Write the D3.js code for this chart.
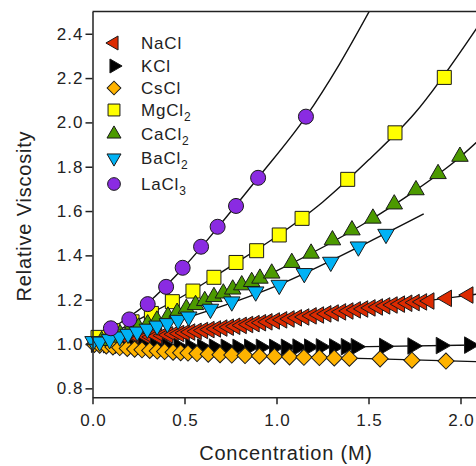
<!DOCTYPE html>
<html>
<head>
<meta charset="utf-8">
<script src="https://cdn.jsdelivr.net/npm/d3@7"></script>
<style>
  body { margin: 0; background: #fff; }
  svg { display: block; font-family: "Liberation Sans", Arial, sans-serif; }
</style>
</head>
<body>
<div id="chart"></div>
<script>
// Measured points, [concentration (M), relative viscosity]
let naclPoints = [[0.02,1.002],[0.05,1.005],[0.08,1.008],[0.11,1.011],[0.14,1.014],[0.17,1.017],
  [0.20,1.020],[0.23,1.023],[0.26,1.026],[0.29,1.029],[0.32,1.032],[0.35,1.035],[0.38,1.038],
  [0.41,1.041],[0.44,1.044],[0.47,1.047],[0.50,1.050],[0.53,1.054],[0.565,1.057],[0.60,1.061],
  [0.635,1.065],[0.67,1.068],[0.705,1.072],[0.74,1.076],[0.775,1.080],[0.81,1.084],[0.845,1.088],
  [0.88,1.092],[0.915,1.096],[0.95,1.100],[0.99,1.104],[1.03,1.109],[1.07,1.113],[1.11,1.118],
  [1.15,1.122],[1.19,1.127],[1.23,1.131],[1.27,1.136],[1.31,1.140],[1.35,1.145],[1.39,1.149],
  [1.43,1.154],[1.47,1.158],[1.51,1.163],[1.55,1.167],[1.59,1.172],[1.63,1.176],[1.67,1.180],
  [1.71,1.184],[1.75,1.187],[1.79,1.190],[1.83,1.194],[1.925,1.206],[2.042,1.221]];
let kclPoints = [[0.02,0.999],[0.085,0.997],[0.149,0.995],[0.213,0.993],[0.277,0.992],[0.341,0.990],
  [0.405,0.989],[0.469,0.988],[0.533,0.987],[0.597,0.986],[0.661,0.986],[0.725,0.985],[0.789,0.985],
  [0.852,0.985],[0.916,0.985],[0.988,0.985],[1.052,0.985],[1.115,0.986],[1.178,0.986],[1.242,0.987],
  [1.314,0.987],[1.378,0.988],[1.432,0.988],[1.586,0.989],[1.740,0.991],[1.894,0.993],[2.048,0.995]];
let csclPoints = [[0.01,0.998],[0.039,0.995],[0.075,0.991],[0.111,0.987],[0.148,0.984],[0.189,0.980],
  [0.229,0.977],[0.269,0.974],[0.311,0.971],[0.352,0.968],[0.392,0.966],[0.438,0.963],[0.479,0.961],
  [0.519,0.959],[0.568,0.957],[0.629,0.954],[0.693,0.952],[0.757,0.950],[0.829,0.948],[0.907,0.946],
  [0.989,0.944],[1.071,0.942],[1.149,0.940],[1.233,0.939],[1.314,0.937],[1.396,0.936],[1.563,0.933],
  [1.736,0.927],[1.921,0.923]];
let mgcl2Points = [[0.03,1.030],[0.11,1.060],[0.215,1.100],[0.32,1.138],[0.434,1.191],[0.546,1.239],
  [0.66,1.301],[0.78,1.368],[0.892,1.421],[1.015,1.492],[1.139,1.567],[1.387,1.743],[1.644,1.953],
  [1.912,2.203]];
let cacl2Points = [[0.05,1.015],[0.10,1.030],[0.15,1.045],[0.20,1.060],[0.25,1.075],[0.30,1.090],
  [0.35,1.107],[0.41,1.125],[0.46,1.142],[0.51,1.160],[0.56,1.177],[0.61,1.195],[0.66,1.213],
  [0.711,1.229],[0.762,1.247],[0.811,1.266],[0.865,1.281],[0.91,1.296],[0.974,1.319],[1.083,1.367],
  [1.188,1.409],[1.304,1.469],[1.41,1.514],[1.524,1.567],[1.64,1.631],[1.758,1.695],[1.878,1.768],
  [1.997,1.846]];
let bacl2Points = [[0.003,1.012],[0.039,1.010],[0.093,1.021],[0.148,1.033],[0.193,1.045],[0.243,1.055],
  [0.298,1.068],[0.351,1.082],[0.407,1.093],[0.465,1.108],[0.523,1.123],[0.641,1.158],[0.757,1.191],
  [0.887,1.236],[1.015,1.266],[1.151,1.319],[1.295,1.370],[1.445,1.439],[1.595,1.496]];
let lacl3Points = [[0.10,1.071],[0.20,1.111],[0.30,1.180],[0.40,1.258],[0.49,1.344],[0.59,1.439],
  [0.68,1.529],[0.78,1.623],[0.90,1.750],[1.16,2.026]];

// Fitted curves
let naclFit = [[0,1],[0.5,1.05],[1.0,1.106],[1.5,1.162],[2.0,1.215],[2.1,1.226]];
let kclFit = [[0,1],[0.5,0.988],[1.0,0.985],[1.5,0.988],[2.1,0.996]];
let csclFit = [[0,1],[0.25,0.976],[0.5,0.961],[1.0,0.944],[1.5,0.934],[2.1,0.92]];
let mgcl2Fit = [[0,1],[0.25,1.11],[0.5,1.22],[0.75,1.35],[1.0,1.485],[1.25,1.64],[1.5,1.83],[1.75,2.04],[2.1,2.44]];
let cacl2Fit = [[0,1],[0.5,1.155],[1.0,1.33],[1.5,1.555],[1.75,1.69],[2.0,1.845],[2.1,1.92]];
let bacl2Fit = [[0,1],[0.5,1.115],[1.0,1.262],[1.5,1.46],[1.8,1.587]];
let lacl3Fit = [[0,1],[0.1,1.065],[0.3,1.185],[0.5,1.35],[0.7,1.545],[0.9,1.75],[1.16,2.026],[1.34,2.26],[1.51,2.51]];

let xTicks = [0, 0.5, 1.0, 1.5, 2.0];
let yTicks = [0.8, 1.0, 1.2, 1.4, 1.6, 1.8, 2.0, 2.2, 2.4];

let width = 476;
let height = 466;

let series = [
  {name: 'NaCl', sub: '', points: naclPoints, fit: naclFit, shape: d3.symbolTriangle, rot: -90, size: 118, fill: '#dc2a00'},
  {name: 'KCl', sub: '', points: kclPoints, fit: kclFit, shape: d3.symbolTriangle, rot: 90, size: 118, fill: '#000000'},
  {name: 'CsCl', sub: '', points: csclPoints, fit: csclFit, shape: d3.symbolSquare, rot: 45, size: 130, fill: '#ffb300'},
  {name: 'MgCl', sub: '2', points: mgcl2Points, fit: mgcl2Fit, shape: d3.symbolSquare, rot: 0, size: 196, fill: '#ffff00'},
  {name: 'CaCl', sub: '2', points: cacl2Points, fit: cacl2Fit, shape: d3.symbolTriangle, rot: 0, size: 118, fill: '#4c9a00'},
  {name: 'BaCl', sub: '2', points: bacl2Points, fit: bacl2Fit, shape: d3.symbolTriangle, rot: 180, size: 118, fill: '#00b2f5'},
  {name: 'LaCl', sub: '3', points: lacl3Points, fit: lacl3Fit, shape: d3.symbolCircle, rot: 0, size: 177, fill: '#8a2be2'}
];

let svg = d3.select('#chart')
.append('svg')
.attr('width', width)
.attr('height', height);

let x = d3.scaleLinear().domain([0, 2.1]).range([92.5, 92.5 + 2.1 * 184]);
let y = d3.scaleLinear().domain([0.76, 2.5]).range([397.2, 11.6]);

svg.append('defs')
.append('clipPath')
.attr('id', 'plotClip')
.append('rect')
.attr('x', x(0))
.attr('y', y(2.5))
.attr('width', width - x(0))
.attr('height', y(0.76) - y(2.5));

// Fit lines go underneath all markers
let line = d3.line()
.x(d => x(d[0]))
.y(d => y(d[1]))
.curve(d3.curveMonotoneX);

svg.append('g')
.attr('clip-path', 'url(#plotClip)')
.selectAll('path')
.data(series)
.enter()
.append('path')
.attr('d', d => line(d.fit))
.attr('fill', 'none')
.attr('stroke', '#111')
.attr('stroke-width', 1.4);

// Markers, drawn in legend order
series.forEach(function(s) {
  let sym = d3.symbol().type(s.shape).size(s.size);
  svg.append('g')
  .selectAll('path')
  .data(s.points)
  .enter()
  .append('path')
  .attr('d', sym)
  .attr('transform', d => `translate(${x(d[0])},${y(d[1])}) rotate(${s.rot})`)
  .attr('fill', s.fill)
  .attr('stroke', '#1a1a1a')
  .attr('stroke-width', 1);
});

// Axes
let yAxis = d3.axisLeft(y)
.tickValues(yTicks)
.tickFormat(d3.format('.1f'))
.tickSize(7)
.tickSizeOuter(0)
.tickPadding(2);

let xAxis = d3.axisBottom(x)
.tickValues(xTicks)
.tickFormat(d3.format('.1f'))
.tickSize(7)
.tickSizeOuter(0)
.tickPadding(10);

let gy = svg.append('g')
.attr('transform', `translate(${x(0)},0)`)
.call(yAxis);

let gx = svg.append('g')
.attr('transform', `translate(0,${y(0.76)})`)
.call(xAxis);

[gx, gy].forEach(function(g) {
  g.select('.domain').attr('stroke', '#222').attr('stroke-width', 1.5);
  g.selectAll('.tick line').attr('stroke', '#222').attr('stroke-width', 1.5);
  g.selectAll('.tick text')
  .attr('fill', '#222')
  .style('font-size', '17px')
  .style('letter-spacing', '1px')
  .style('font-family', '"Liberation Sans", Arial, sans-serif');
});
// letter-spacing trails the last glyph, so nudge the centred x labels
gx.selectAll('.tick text').attr('dx', '0.5');

// Top frame
svg.append('line')
.attr('x1', x(0))
.attr('x2', width)
.attr('y1', y(2.5))
.attr('y2', y(2.5))
.attr('stroke', '#222')
.attr('stroke-width', 1.5);

// Axis titles
svg.append('text')
.attr('x', 286)
.attr('y', 460)
.attr('text-anchor', 'middle')
.attr('fill', '#222')
.style('font-size', '20px')
.style('letter-spacing', '0.8px')
.text('Concentration (M)');

svg.append('text')
.attr('transform', 'translate(31,216) rotate(-90)')
.attr('text-anchor', 'middle')
.attr('fill', '#222')
.style('font-size', '20px')
.style('letter-spacing', '0.8px')
.text('Relative Viscosity');

// Legend
let legendRowY = [43, 66, 88, 110, 134, 158, 184];
let legend = svg.append('g');
series.forEach(function(s, i) {
  let ly = legendRowY[i];
  legend.append('path')
  .attr('d', d3.symbol().type(s.shape).size(s.size * 0.72))
  .attr('transform', `translate(114,${ly}) rotate(${s.rot})`)
  .attr('fill', s.fill)
  .attr('stroke', '#1a1a1a')
  .attr('stroke-width', 1);
  let t = legend.append('text')
  .attr('x', 141)
  .attr('y', ly + 6)
  .attr('fill', '#222')
  .style('font-size', '17px')
  .style('letter-spacing', '0.8px');
  t.append('tspan').text(s.name);
  if (s.sub) {
    t.append('tspan')
    .attr('dy', 5)
    .style('font-size', '12px')
    .text(s.sub);
  }
});
</script>
</body>
</html>
